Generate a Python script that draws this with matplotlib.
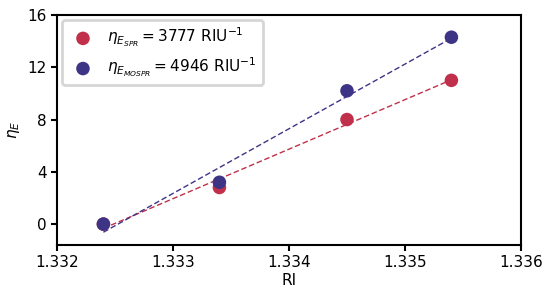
import numpy as np
import matplotlib
matplotlib.use("Agg")
import matplotlib.pyplot as plt

ri = [1.3324, 1.3334, 1.3345, 1.3354]
eta_spr = [0.0, 2.8, 8.0, 11.0]
eta_mospr = [0.0, 3.2, 10.2, 14.3]

red = "#C1304A"
blue = "#3E3486"

fig = plt.figure(figsize=(5.5, 2.91), dpi=100)
ax = fig.add_axes([57 / 550, 1 - 245 / 291, 464 / 550, 230 / 291])

xs = np.array([ri[0], ri[-1]])
for y, c, lab in [(eta_spr, red, r"$\eta_{E_{SPR}} = 3777\ \mathrm{RIU}^{-1}$"),
                  (eta_mospr, blue, r"$\eta_{E_{MOSPR}} = 4946\ \mathrm{RIU}^{-1}$")]:
    k, b = np.polyfit(ri, y, 1)
    ax.plot(xs, k * xs + b, "--", color=c, lw=1, dashes=(4, 2))
    ax.scatter(ri, y, s=95, color=c, label=lab, zorder=3, edgecolors="none")

ax.set_xlim(1.332, 1.336)
ax.set_ylim(-1.6, 16)
ax.set_xticks([1.332, 1.333, 1.334, 1.335, 1.336])
ax.set_xticklabels(["1.332", "1.333", "1.334", "1.335", "1.336"])
ax.set_yticks([0, 4, 8, 12, 16])
ax.tick_params(labelsize=11, width=1.5, length=4)
for s in ax.spines.values():
    s.set_linewidth(1.5)
ax.set_xlabel("RI", fontsize=11, labelpad=2)
ax.set_ylabel(r"$\eta_E$", fontsize=11, labelpad=4)

leg = ax.legend(loc="upper left", fontsize=11, frameon=True, handletextpad=0.6,
                borderpad=0.4, labelspacing=0.45, borderaxespad=0.3,
                bbox_to_anchor=(0.0, 1.0))
leg.get_frame().set_edgecolor("#cccccc")
leg.get_frame().set_linewidth(2)

fig.savefig("out.png", dpi=100)
